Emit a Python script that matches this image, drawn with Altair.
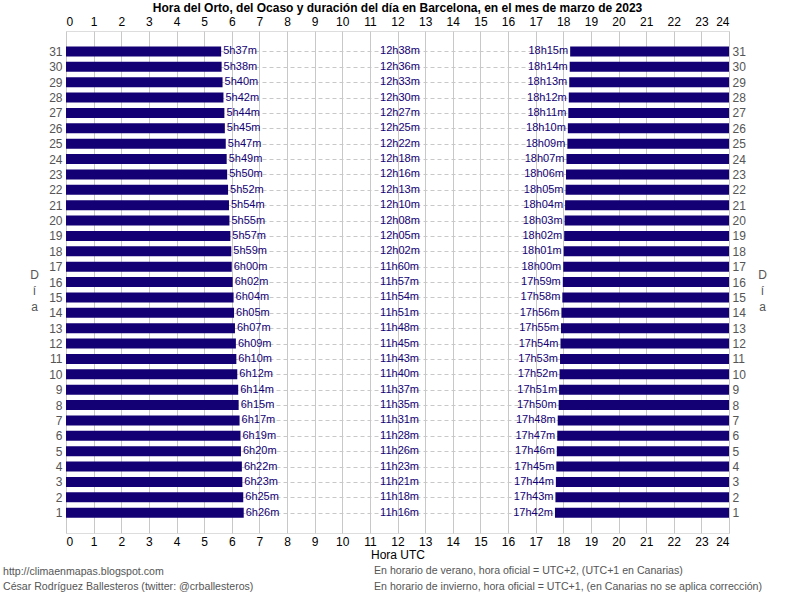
import altair as alt
import pandas as pd

# Sunrise, day length and sunset (UTC) for Barcelona, March 2023, day 1 to day 31
days = list(range(1, 32))
sunrise = ["6h26m", "6h25m", "6h23m", "6h22m", "6h20m", "6h19m", "6h17m", "6h15m",
           "6h14m", "6h12m", "6h10m", "6h09m", "6h07m", "6h05m", "6h04m", "6h02m",
           "6h00m", "5h59m", "5h57m", "5h55m", "5h54m", "5h52m", "5h50m", "5h49m",
           "5h47m", "5h45m", "5h44m", "5h42m", "5h40m", "5h38m", "5h37m"]
daylength = ["11h16m", "11h18m", "11h21m", "11h23m", "11h26m", "11h28m", "11h31m",
             "11h35m", "11h37m", "11h40m", "11h43m", "11h45m", "11h48m", "11h51m",
             "11h54m", "11h57m", "11h60m", "12h02m", "12h05m", "12h08m", "12h10m",
             "12h13m", "12h16m", "12h18m", "12h22m", "12h25m", "12h27m", "12h30m",
             "12h33m", "12h36m", "12h38m"]
sunset = ["17h42m", "17h43m", "17h44m", "17h45m", "17h46m", "17h47m", "17h48m",
          "17h50m", "17h51m", "17h52m", "17h53m", "17h54m", "17h55m", "17h56m",
          "17h58m", "17h59m", "18h00m", "18h01m", "18h02m", "18h03m", "18h04m",
          "18h05m", "18h06m", "18h07m", "18h09m", "18h10m", "18h11m", "18h12m",
          "18h13m", "18h14m", "18h15m"]
hour_ticks = list(range(0, 25))

title_text = "Hora del Orto, del Ocaso y duración del día en Barcelona, en el mes de marzo de 2023"
footer_left = ["http://climaenmapas.blogspot.com",
               "César Rodríguez Ballesteros (twitter: @crballesteros)"]
footer_right = ["En horario de verano, hora oficial = UTC+2, (UTC+1 en Canarias)",
                "En horario de invierno, hora oficial = UTC+1, (en Canarias no se aplica corrección)"]


def to_hours(s):
    h, m = s.rstrip("m").split("h")
    return int(h) + int(m) / 60.0


df = pd.DataFrame({
    "dia": days,
    "orto": sunrise,
    "duracion": daylength,
    "ocaso": sunset,
})
df["orto_h"] = df["orto"].map(to_hours)
df["ocaso_h"] = df["ocaso"].map(to_hours)

NAVY = "#130075"
FONT = "Liberation Sans"
W, H = 663, 502

xscale = alt.Scale(domain=[0, 24], nice=False, zero=False)
yscale = alt.Scale(domain=[0, 32], nice=False, zero=False)

x_bottom = alt.Axis(orient="bottom", values=hour_ticks, grid=True, gridColor="#c8c8c8",
                    gridDash=[], ticks=False, domain=False, labelColor="black",
                    labelFontSize=12, labelPadding=3, title="Hora UTC",
                    titleFontWeight="normal", titleFontSize=12, titleColor="black",
                    titlePadding=2)
x_top = alt.Axis(orient="top", values=hour_ticks, grid=False, ticks=False, domain=False,
                 labelColor="black", labelFontSize=12, labelPadding=3, title=None)
y_left = alt.Axis(orient="left", values=days, grid=True, gridColor="#c8c8c8",
                  gridDash=[4, 3], ticks=False, domain=False, labelColor="#555555",
                  labelFontSize=12, labelPadding=4, title=["D", "í", "a"],
                  titleAngle=0, titleFontWeight="normal", titleFontSize=12,
                  titleColor="#555555", titleX=-32, titleY=243, titleAlign="center",
                  titleBaseline="middle", titleLineHeight=16)
y_right = alt.Axis(orient="right", values=days, grid=False, ticks=False, domain=False,
                   labelColor="#555555", labelFontSize=12, labelPadding=3,
                   title=["D", "í", "a"], titleAngle=0, titleFontWeight="normal",
                   titleFontSize=12, titleColor="#555555", titleX=33, titleY=243,
                   titleAlign="center", titleBaseline="middle", titleLineHeight=16)

base = alt.Chart(df).transform_calculate(inicio="0", fin="24")

# Night before sunrise
rise_bars = base.mark_bar(color=NAVY, size=10, orient="horizontal").encode(
    x=alt.X("inicio:Q", scale=xscale, axis=x_bottom),
    x2="orto_h:Q",
    y=alt.Y("dia:Q", scale=yscale, axis=y_left),
)

# Night after sunset
set_bars = base.mark_bar(color=NAVY, size=10, orient="horizontal").encode(
    x=alt.X("ocaso_h:Q", scale=xscale, axis=x_top),
    x2="fin:Q",
    y=alt.Y("dia:Q", scale=yscale, axis=y_right),
)

txt = dict(font=FONT, fontSize=11, color=NAVY, baseline="middle")
y_text = alt.Y("dia:Q", scale=yscale, axis=None)

rise_text = base.mark_text(align="left", dx=2, **txt).encode(
    x=alt.X("orto_h:Q", scale=xscale, axis=None), y=y_text, text="orto:N")
len_text = base.mark_text(align="left", **txt).encode(
    x=alt.datum(11.37, scale=xscale, axis=None), y=y_text, text="duracion:N")
set_text = base.mark_text(align="right", dx=-2, **txt).encode(
    x=alt.X("ocaso_h:Q", scale=xscale, axis=None), y=y_text, text="ocaso:N")


def note(text, x, y, align="left", color="#555555", size=11, weight="normal"):
    return alt.Chart(pd.DataFrame({"t": [text]})).mark_text(
        align=align, baseline="middle", font=FONT, fontSize=size, color=color,
        fontWeight=weight).encode(text="t:N", x=alt.value(x), y=alt.value(y))


title = note(title_text, W / 2, -23, align="center", color="black", size=12, weight="bold")
foot = [
    note(footer_left[0], -63, 541, size=10.6),
    note(footer_left[1], -63, 556, size=10.6),
    note(footer_right[0], 308, 540, size=10.6),
    note(footer_right[1], 308, 556, size=10.6),
]

chart = alt.layer(rise_bars, set_bars, rise_text, len_text, set_text, title, *foot).properties(
    width=W, height=H,
    autosize="none",
    padding={"left": 66, "top": 31, "right": 796 - 66 - W, "bottom": 596 - 31 - H},
    background="white",
).configure_view(
    fill="#f9f0d4", stroke="black", strokeWidth=1
).configure(font=FONT)

chart.save("out.html", embed_options={"renderer": "svg", "actions": False})
